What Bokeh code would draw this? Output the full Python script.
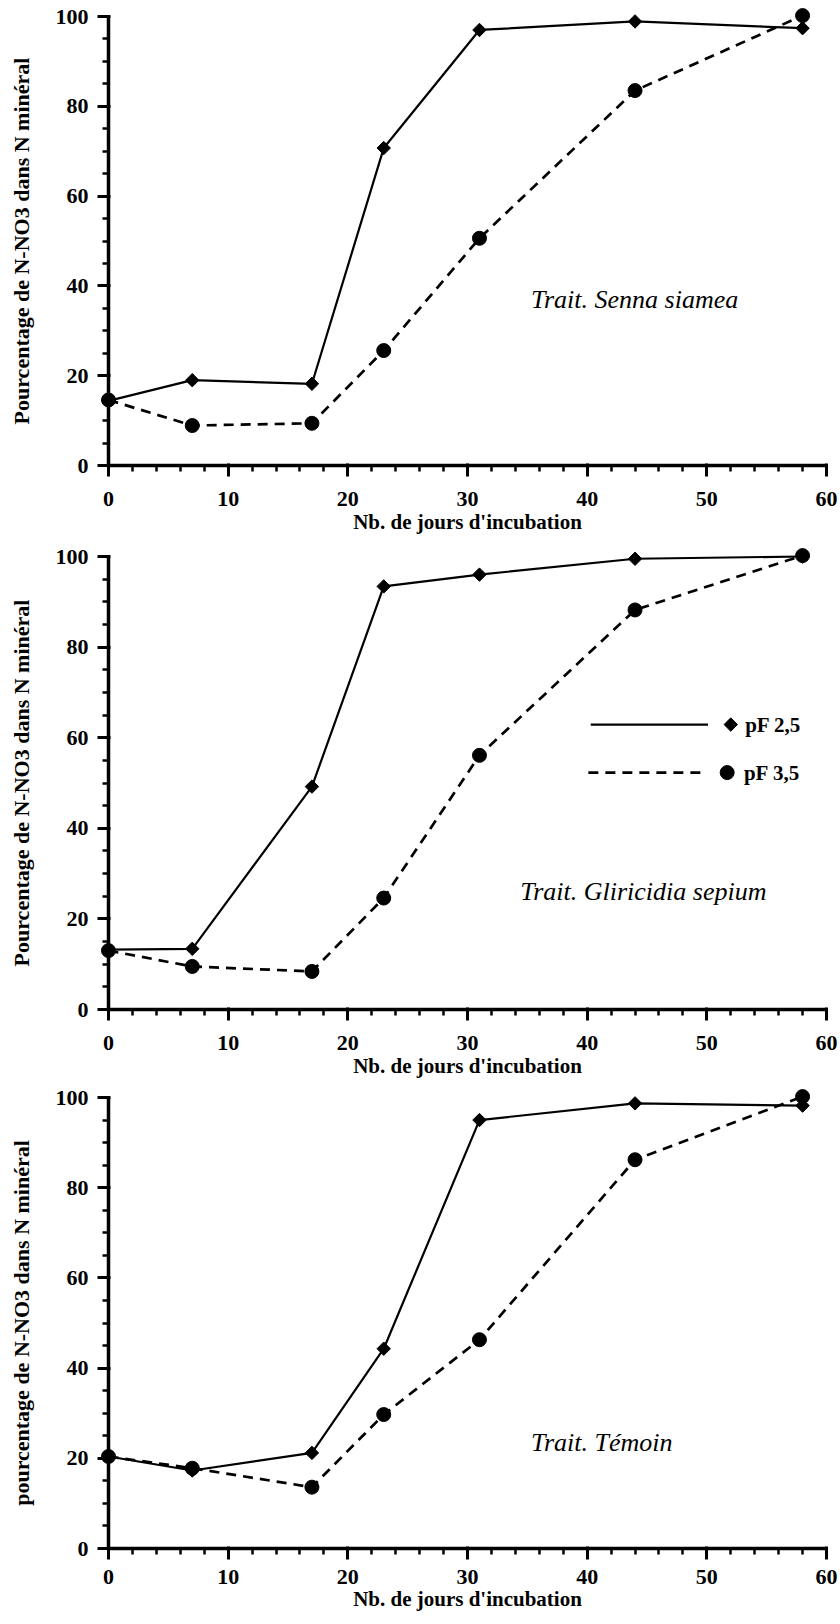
import math
from bokeh.plotting import figure
from bokeh.layouts import column
from bokeh.models import Range1d, Label, SingleIntervalTicker
from bokeh.embed import file_html
from bokeh.resources import INLINE

# ---------------- data ----------------
days = [0, 7, 17, 23, 31, 44, 58]

senna_pf25 = [14.4, 19.0, 18.2, 70.7, 97.0, 98.9, 97.4]
senna_pf35 = [14.6, 8.9, 9.4, 25.6, 50.6, 83.5, 100.2]

glir_pf25 = [13.2, 13.4, 49.2, 93.4, 96.0, 99.5, 100.0]
glir_pf35 = [13.0, 9.5, 8.4, 24.6, 56.1, 88.2, 100.2]

temoin_pf25 = [20.4, 17.3, 21.2, 44.3, 95.0, 98.7, 98.2]
temoin_pf35 = [20.4, 17.8, 13.6, 29.7, 46.3, 86.2, 100.2]

panel_titles = ["Trait. Senna siamea", "Trait. Gliricidia sepium", "Trait. Témoin"]
ylabels = ["Pourcentage de N-NO3 dans N minéral",
           "Pourcentage de N-NO3 dans N minéral",
           "pourcentage de N-NO3 dans N minéral"]
xlabel = "Nb. de jours d'incubation"
series_names = ["pF 2,5", "pF 3,5"]

# ---------------- layout / style ----------------
SERIF = "Liberation Serif"
W = 840
panels = [
    dict(a=senna_pf25, b=senna_pf35, h=540, top=16, bottom=75, tick_std=15, xlab_std=1,
         title_xy=(35.3, 36.9)),
    dict(a=glir_pf25, b=glir_pf35, h=540, top=16, bottom=71, tick_std=15, xlab_std=1,
         title_xy=(34.4, 26.0)),
    dict(a=temoin_pf25, b=temoin_pf35, h=544, top=17, bottom=76, tick_std=10, xlab_std=0,
         title_xy=(35.3, 23.5)),
]


def style_axis(ax, interval, minor, std):
    ax.ticker = SingleIntervalTicker(interval=interval, num_minor_ticks=minor)
    ax.axis_line_width = 3.5
    ax.axis_line_color = "black"
    ax.major_tick_line_width = 3
    ax.minor_tick_line_width = 2.5
    ax.major_tick_out = 11
    ax.major_tick_in = 2
    ax.minor_tick_out = 6
    ax.minor_tick_in = 1
    ax.major_label_text_font = SERIF
    ax.major_label_text_font_style = "bold"
    ax.major_label_text_font_size = "22px"
    ax.major_label_text_color = "black"
    ax.major_label_standoff = std
    ax.axis_label_text_font = SERIF
    ax.axis_label_text_font_style = "bold"
    ax.axis_label_text_font_size = "21px"
    ax.axis_label_text_color = "black"


plots = []
for i, pc in enumerate(panels):
    p = figure(width=W, height=pc["h"], output_backend="svg", toolbar_location=None,
               x_range=Range1d(0, 60), y_range=Range1d(0, 100),
               min_border_left=108, min_border_right=14,
               min_border_top=pc["top"], min_border_bottom=pc["bottom"])
    p.outline_line_color = None
    p.grid.visible = False
    p.background_fill_color = "white"
    p.border_fill_color = "white"

    style_axis(p.xaxis[0], 10, 5, pc["tick_std"])
    p.xaxis[0].axis_label = xlabel
    p.xaxis[0].axis_label_standoff = pc["xlab_std"]
    style_axis(p.yaxis[0], 20, 4, 9)
    p.yaxis[0].axis_label = ylabels[i]
    p.yaxis[0].axis_label_text_font_size = "22px"
    p.yaxis[0].axis_label_standoff = 19

    # series pF 3,5 (dashed, circles) -- overlay level so markers on the frame edge are not cut
    p.line(days, pc["b"], line_color="black", line_width=2.7, line_dash="10 7", level="overlay")
    p.scatter(days, pc["b"], marker="circle", size=14, fill_color="black",
              line_color="black", level="overlay")
    # series pF 2,5 (solid, diamonds)
    p.line(days, pc["a"], line_color="black", line_width=2.2, level="overlay")
    p.scatter(days, pc["a"], marker="square", angle=math.pi / 4, size=9.5,
              fill_color="black", line_color="black", level="overlay")

    # treatment annotation
    tx, ty = pc["title_xy"]
    p.add_layout(Label(x=tx, y=ty, text=panel_titles[i], text_font=SERIF,
                       text_font_style="italic", text_font_size="26px",
                       text_align="left", text_baseline="alphabetic", text_color="black"))

    if i == 1:
        # legend drawn by hand
        p.line([40.3, 50.1], [62.9, 62.9], line_color="black", line_width=2.2)
        p.scatter([52.0], [62.9], marker="square", angle=math.pi / 4, size=9.5,
                  fill_color="black", line_color="black")
        p.line([40.1, 50.0], [52.3, 52.3], line_color="black", line_width=2.7, line_dash="10 7")
        p.scatter([51.7], [52.3], marker="circle", size=14, fill_color="black", line_color="black")
        p.add_layout(Label(x=53.2, y=62.9, text=series_names[0], text_font=SERIF,
                           text_font_style="bold", text_font_size="21px",
                           text_align="left", text_baseline="middle", text_color="black"))
        p.add_layout(Label(x=53.1, y=52.3, text=series_names[1], text_font=SERIF,
                           text_font_style="bold", text_font_size="21px",
                           text_align="left", text_baseline="middle", text_color="black"))
    plots.append(p)

layout = column(*plots, spacing=0)
open("out.html", "w").write(file_html(layout, INLINE))
